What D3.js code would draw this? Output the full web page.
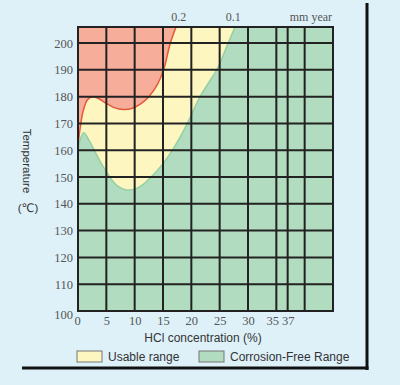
<!DOCTYPE html>
<html>
<head>
<meta charset="utf-8">
<script src="https://cdn.jsdelivr.net/npm/d3@7"></script>
<style>
  html, body { margin: 0; padding: 0; background: #def1f9; }
  svg { display: block; }
</style>
</head>
<body>
<div id="chart"></div>
<script>
// ---- data ----
// boundary of the red (corrosion > 0.2 mm/year) region: [HCl %, temperature]
const redEdge = [[0, 162], [0.4, 168.5], [0.9, 174.5], [1.7, 178.9], [2.6, 180], [3.6, 179.3], [5, 177.5],
                 [6.5, 175.8], [8, 175.2], [9.5, 175.6], [11, 177.2], [12.5, 180], [14, 184.5],
                 [15.1, 190], [16.3, 200], [17.3, 206]];
// boundary of the green (corrosion-free) region
const greenEdge = [[0, 160.5], [1, 166.5], [2, 163.5], [3, 159.5], [4, 155.5], [5, 152], [6, 148.8],
                   [7, 146.6], [8.5, 145.2], [10, 145.5], [11.5, 147.3], [13, 150.2], [15, 155],
                   [17, 161.2], [19.3, 170], [21.4, 179.5], [23, 185], [24.6, 190.5], [26.5, 200], [27.7, 206]];

const xTicks = [0, 5, 10, 15, 20, 25, 30, 35, 37];
const xGrid = [5, 10, 15, 20, 25, 30, 35, 37, 40];
const yTicks = [100, 110, 120, 130, 140, 150, 160, 170, 180, 190, 200];
const topLabels = [{x: 17.8, text: "0.2"}, {x: 27.4, text: "0.1"}, {x: 41.1, text: "mm year"}];
const legendItems = [{label: "Usable range", color: "#fdf6c0"}, {label: "Corrosion-Free Range", color: "#b2dcbf"}];

const W = 400, H = 385;
const svg = d3.select("#chart").append("svg").attr("width", W).attr("height", H);

const x = d3.scaleLinear().domain([0, 45]).range([78, 333]);
const y = d3.scaleLinear().domain([100, 206]).range([311, 27]);

const serif = "'Liberation Serif', 'DejaVu Serif', serif";
const sans = "'Liberation Sans', Arial, 'DejaVu Sans', sans-serif";

svg.append("clipPath").attr("id", "plotClip")
  .append("rect")
  .attr("x", x(0)).attr("y", y(206))
  .attr("width", x(45) - x(0)).attr("height", y(100) - y(206));

const plot = svg.append("g").attr("clip-path", "url(#plotClip)");

// yellow base = usable range
plot.append("rect")
  .attr("x", x(0)).attr("y", y(206))
  .attr("width", x(45) - x(0)).attr("height", y(100) - y(206))
  .attr("fill", "#fdf6c0");

const line = d3.line().x(d => x(d[0])).y(d => y(d[1])).curve(d3.curveCatmullRom.alpha(0.5));

// green region: below/right of green edge
const greenPath = line(greenEdge) + "L" + x(46) + "," + y(206) + "L" + x(46) + "," + y(99) + "L" + x(-1) + "," + y(99)
  + "L" + x(-1) + "," + y(greenEdge[0][1]) + "Z";
plot.append("path").attr("d", greenPath).attr("fill", "#b2dcbf");
plot.append("path").attr("d", line(greenEdge)).attr("fill", "none")
  .attr("stroke", "#95cfa3").attr("stroke-width", 1.5);

// red region: above/left of red edge
const redPath = line(redEdge) + "L" + x(17.3) + "," + y(207) + "L" + x(-1) + "," + y(207) + "L" + x(-1) + "," + y(redEdge[0][1]) + "Z";
plot.append("path").attr("d", redPath).attr("fill", "#f6ad9a");
plot.append("path").attr("d", line(redEdge)).attr("fill", "none")
  .attr("stroke", "#e5583a").attr("stroke-width", 1.5);

// grid
const grid = svg.append("g").attr("stroke", "#222").attr("stroke-width", 2);
xGrid.forEach(v => grid.append("line")
  .attr("x1", x(v)).attr("x2", x(v)).attr("y1", y(206)).attr("y2", y(100)));
yTicks.filter(v => v > 100).forEach(v => grid.append("line")
  .attr("x1", x(0)).attr("x2", x(45)).attr("y1", y(v)).attr("y2", y(v)));
svg.append("rect")
  .attr("x", x(0)).attr("y", y(206))
  .attr("width", x(45) - x(0)).attr("height", y(100) - y(206))
  .attr("fill", "none").attr("stroke", "#222").attr("stroke-width", 2);

// y tick labels
const yAxis = svg.append("g").attr("transform", `translate(${x(0)},0)`)
  .call(d3.axisLeft(y).tickValues(yTicks).tickSize(0).tickPadding(5));
yAxis.select(".domain").remove();
yAxis.selectAll("text").attr("font-family", serif).attr("font-size", 12.5).attr("fill", "#555")
  .attr("dy", d => d === 100 ? "0.6em" : "0.32em");

// x tick labels
const xAxis = svg.append("g").attr("transform", `translate(0,${y(100)})`)
  .call(d3.axisBottom(x).tickValues(xTicks).tickSize(0).tickPadding(5));
xAxis.select(".domain").remove();
xAxis.selectAll("text").attr("font-family", serif).attr("font-size", 12.5).attr("fill", "#555")
  .attr("dx", d => d === 35 ? -4 : (d === 0 ? -1 : 0));

// corrosion rate labels on top
svg.selectAll(".toplab").data(topLabels).join("text")
  .attr("x", d => x(d.x)).attr("y", 21)
  .attr("text-anchor", "middle")
  .attr("font-family", serif).attr("font-size", 12).attr("fill", "#555")
  .text(d => d.text);

// axis titles
svg.append("text")
  .attr("transform", "translate(23,161) rotate(90)")
  .attr("text-anchor", "middle")
  .attr("font-family", sans).attr("font-size", 11.5).attr("fill", "#333")
  .text("Temperature");
svg.append("text")
  .attr("x", 28).attr("y", 212)
  .attr("text-anchor", "middle")
  .attr("font-family", sans).attr("font-size", 11.5).attr("fill", "#333")
  .text("(℃)");
svg.append("text")
  .attr("x", 203).attr("y", 342)
  .attr("text-anchor", "middle")
  .attr("font-family", sans).attr("font-size", 12).attr("fill", "#333")
  .text("HCl concentration (%)");

// legend
const legX = [77, 199];
const leg = svg.selectAll(".leg").data(legendItems).join("g")
  .attr("transform", (d, i) => `translate(${legX[i]},351)`);
leg.append("rect").attr("width", 25).attr("height", 11)
  .attr("fill", d => d.color).attr("stroke", "#777").attr("stroke-width", 1);
leg.append("text").attr("x", 31).attr("y", 10)
  .attr("font-family", sans).attr("font-size", 12).attr("fill", "#333")
  .text(d => d.label);

// frame lines
svg.append("line").attr("x1", 367).attr("x2", 367).attr("y1", 3).attr("y2", 370)
  .attr("stroke", "#111").attr("stroke-width", 3);
svg.append("line").attr("x1", 22).attr("x2", 368.5).attr("y1", 368).attr("y2", 368)
  .attr("stroke", "#111").attr("stroke-width", 3);
</script>
</body>
</html>
